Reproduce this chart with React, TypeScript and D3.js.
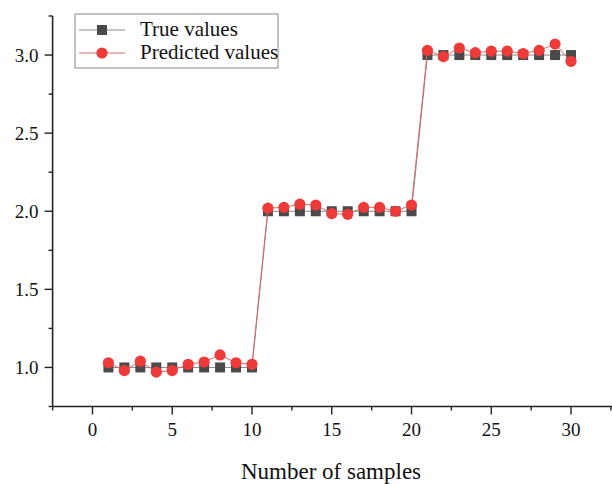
import React from "react";
import * as d3 from "d3";

const samples = Array.from({ length: 30 }, (_, i) => i + 1);
const trueValues = [
  1, 1, 1, 1, 1, 1, 1, 1, 1, 1,
  2, 2, 2, 2, 2, 2, 2, 2, 2, 2,
  3, 3, 3, 3, 3, 3, 3, 3, 3, 3,
];
const predictedValues = [
  1.03, 0.98, 1.04, 0.97, 0.98, 1.02, 1.035, 1.08, 1.03, 1.02,
  2.02, 2.025, 2.045, 2.04, 1.985, 1.98, 2.025, 2.025, 2.0, 2.04,
  3.03, 2.99, 3.045, 3.015, 3.025, 3.025, 3.01, 3.03, 3.07, 2.96,
];
const xTicks = [0, 5, 10, 15, 20, 25, 30];
const yTicks = [1.0, 1.5, 2.0, 2.5, 3.0];
const xLabel = "Number of samples";
const seriesNames = ["True values", "Predicted values"];

const W = 612;
const H = 484;
const FONT = "'Liberation Serif', 'Times New Roman', serif";

export default function App() {
  const x = d3.scaleLinear().domain([-2.5, 32.5]).range([52.6, 610.9]);
  const y = d3.scaleLinear().domain([0.75, 3.25]).range([406.5, 16]);
  const xMinor = d3.range(-2.5, 32.6, 2.5).filter((v) => !xTicks.includes(v));
  const yMinor = d3.range(0.75, 3.26, 0.25).filter((v) => !yTicks.some((t) => Math.abs(t - v) < 1e-6));

  const line = d3
    .line<[number, number]>()
    .x((d) => x(d[0]))
    .y((d) => y(d[1]));
  const truePts: [number, number][] = samples.map((s, i) => [s, trueValues[i]]);
  const predPts: [number, number][] = samples.map((s, i) => [s, predictedValues[i]]);

  const axisY = y.range()[0];
  const axisX = x.range()[0];
  const sq = 10;

  return (
    <svg
      width={W}
      height={H}
      style={{ position: "absolute", left: 0, top: 0, background: "#fff" }}
      fontFamily={FONT}
    >
      {/* series */}
      <path d={line(truePts) || ""} fill="none" stroke="#8a8a8a" strokeWidth={1} />
      {truePts.map((p, i) => (
        <rect key={"t" + i} x={x(p[0]) - sq / 2} y={y(p[1]) - sq / 2} width={sq} height={sq} fill="#4a4a4a" />
      ))}
      <path d={line(predPts) || ""} fill="none" stroke="#d86a6a" strokeWidth={1} />
      {predPts.map((p, i) => (
        <circle key={"p" + i} cx={x(p[0])} cy={y(p[1])} r={5.6} fill="#ef3a3a" />
      ))}

      {/* x axis */}
      <line x1={axisX} x2={W} y1={axisY} y2={axisY} stroke="#222" strokeWidth={1.6} />
      {xTicks.map((t) => (
        <g key={"xt" + t}>
          <line x1={x(t)} x2={x(t)} y1={axisY} y2={axisY + 8} stroke="#222" strokeWidth={1.4} />
          <text x={x(t)} y={axisY + 29} textAnchor="middle" fontSize={19} fill="#111">
            {t}
          </text>
        </g>
      ))}
      {xMinor.map((t) => (
        <line key={"xm" + t} x1={x(t)} x2={x(t)} y1={axisY} y2={axisY + 4} stroke="#222" strokeWidth={1.4} />
      ))}
      <text x={331} y={479} textAnchor="middle" fontSize={23} fill="#111">
        {xLabel}
      </text>

      {/* y axis */}
      <line x1={axisX} x2={axisX} y1={y.range()[1]} y2={axisY} stroke="#222" strokeWidth={1.6} />
      {yTicks.map((t) => (
        <g key={"yt" + t}>
          <line x1={axisX - 8} x2={axisX} y1={y(t)} y2={y(t)} stroke="#222" strokeWidth={1.4} />
          <text x={axisX - 14} y={y(t) + 7} textAnchor="end" fontSize={19} fill="#111">
            {d3.format(".1f")(t)}
          </text>
        </g>
      ))}
      {yMinor.map((t) => (
        <line key={"ym" + t} x1={axisX - 4} x2={axisX} y1={y(t)} y2={y(t)} stroke="#222" strokeWidth={1.4} />
      ))}

      {/* legend */}
      <rect x={75} y={14} width={203} height={54} fill="#fff" stroke="#888" strokeWidth={1} />
      <line x1={79} x2={125} y1={30} y2={30} stroke="#8a8a8a" strokeWidth={1} />
      <rect x={102 - sq / 2} y={30 - sq / 2} width={sq} height={sq} fill="#4a4a4a" />
      <text x={140} y={36} fontSize={21} fill="#111">
        {seriesNames[0]}
      </text>
      <line x1={79} x2={125} y1={53} y2={53} stroke="#d86a6a" strokeWidth={1} />
      <circle cx={102} cy={53} r={5.6} fill="#ef3a3a" />
      <text x={140} y={59} fontSize={21} fill="#111">
        {seriesNames[1]}
      </text>
    </svg>
  );
}
